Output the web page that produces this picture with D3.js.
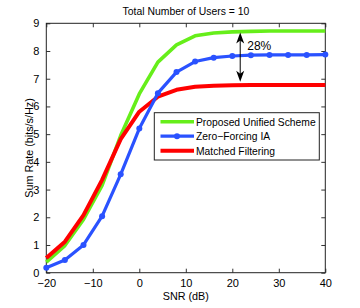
<!DOCTYPE html>
<html><head><meta charset="utf-8">
<script src="https://cdn.jsdelivr.net/npm/d3@7"></script>
<style>body{margin:0;background:#fff}svg text{font-family:"Liberation Sans",Arial,sans-serif;fill:#000}</style>
</head><body><svg id="c" width="360" height="308"></svg>
<script>
const snr = [-20,-16,-12,-8,-4,0,4,8,12,16,20,24,28,32,36,40];
const proposed = [0.38,0.98,1.92,3.15,4.95,6.45,7.6,8.22,8.55,8.65,8.69,8.71,8.72,8.72,8.72,8.72];
const zfia = [0.18,0.46,1.0,2.04,3.55,5.2,6.48,7.24,7.62,7.76,7.82,7.85,7.86,7.86,7.86,7.87];
const mf = [0.53,1.12,2.08,3.35,4.82,5.81,6.35,6.6,6.71,6.75,6.76,6.77,6.77,6.77,6.77,6.77];
const xTicks = [-20,-10,0,10,20,30,40];
const yTicks = [0,1,2,3,4,5,6,7,8,9];
const seriesNames = ["Proposed Unified Scheme","Zero\u2212Forcing IA","Matched Filtering"];
const title = "Total Number of Users = 10";
const xLabel = "SNR (dB)", yLabel = "Sum Rate (bits/s/Hz)";
const arrowX = 21.7, arrowTop = 8.7, arrowBot = 6.82, arrowText = "28%";

const svg = d3.select("#c");
const L=46.3,R=325.3,T=23.3,B=272.7;
const x = d3.scaleLinear().domain([-20,40]).range([L,R]);
const y = d3.scaleLinear().domain([0,9]).range([B,T]);
const cols = ["#66ee1a","#2a52ff","#ff0000"];
const widths = [3.6,3.2,4];
const data = [proposed,zfia,mf];

const g = svg.append("g");
const ax = (sel)=>sel.selectAll(".domain").remove();
g.append("g").attr("transform",`translate(0,${B})`).call(d3.axisBottom(x).tickValues(xTicks).tickSizeInner(-4).tickSizeOuter(0).tickPadding(7).tickFormat(d=>d<0?"\u2212"+(-d):d)).call(ax)
 .call(s=>{s.selectAll("text").style("font-size","11px");s.selectAll("line").attr("stroke","#333");});
g.append("g").attr("transform",`translate(0,${T})`).call(d3.axisTop(x).tickValues(xTicks).tickSizeInner(-4).tickSizeOuter(0).tickFormat("")).call(ax).selectAll("line").attr("stroke","#333");
g.append("g").attr("transform",`translate(${L},0)`).call(d3.axisLeft(y).tickValues(yTicks).tickSizeInner(-4).tickSizeOuter(0).tickPadding(7)).call(ax)
 .call(s=>{s.selectAll("text").style("font-size","11px");s.selectAll("line").attr("stroke","#333");});
g.append("g").attr("transform",`translate(${R},0)`).call(d3.axisRight(y).tickValues(yTicks).tickSizeInner(-4).tickSizeOuter(0).tickFormat("")).call(ax).selectAll("line").attr("stroke","#333");
g.append("rect").attr("x",L).attr("y",T).attr("width",R-L).attr("height",B-T).attr("fill","none").attr("stroke","#222").attr("stroke-width",1);

const line = d3.line().x((d,i)=>x(snr[i])).y(d=>y(d));
[0,2,1].forEach(k=>{
  g.append("path").datum(data[k]).attr("d",line).attr("fill","none").attr("stroke",cols[k]).attr("stroke-width",widths[k]).attr("stroke-linejoin","round");
});
g.selectAll(".mk").data(zfia).enter().append("circle").attr("cx",(d,i)=>x(snr[i])).attr("cy",d=>y(d)).attr("r",3).attr("fill",cols[1]);

// arrow
const ay1=y(arrowTop)+1, ay2=y(arrowBot)-2, axp=x(arrowX);
g.append("line").attr("x1",axp).attr("x2",axp).attr("y1",ay1+6).attr("y2",ay2-6).attr("stroke","#000").attr("stroke-width",1);
g.append("path").attr("d",`M${axp},${ay1} L${axp-4},${ay1+11} L${axp},${ay1+8} L${axp+4},${ay1+11} Z`).attr("fill","#000");
g.append("path").attr("d",`M${axp},${ay2} L${axp-4},${ay2-11} L${axp},${ay2-8} L${axp+4},${ay2-11} Z`).attr("fill","#000");
g.append("text").attr("x",axp+7).attr("y",y(8.05)).style("font-size","12px").text(arrowText);

svg.append("text").attr("x",186).attr("y",15).attr("text-anchor","middle").style("font-size","10.4px").text(title);
svg.append("text").attr("x",(L+R)/2).attr("y",300).attr("text-anchor","middle").style("font-size","10.8px").text(xLabel);
svg.append("text").attr("transform",`translate(32.5,${(T+B)/2}) rotate(-90)`).attr("text-anchor","middle").style("font-size","10.8px").text(yLabel);

const lg = svg.append("g");
lg.append("rect").attr("x",154.3).attr("y",112.7).attr("width",165).attr("height",47.3).attr("fill","#fff").attr("stroke","#222").attr("stroke-width",1);
const rows=[121.7,136.2,150.7];
seriesNames.forEach((n,k)=>{
  lg.append("line").attr("x1",160.5).attr("x2",194).attr("y1",rows[k]).attr("y2",rows[k]).attr("stroke",cols[k]).attr("stroke-width",widths[k]);
  if(k===1) lg.append("circle").attr("cx",177).attr("cy",rows[k]).attr("r",3).attr("fill",cols[k]);
  lg.append("text").attr("x",196).attr("y",rows[k]+4).style("font-size","10.3px").text(n);
});
</script></body></html>
